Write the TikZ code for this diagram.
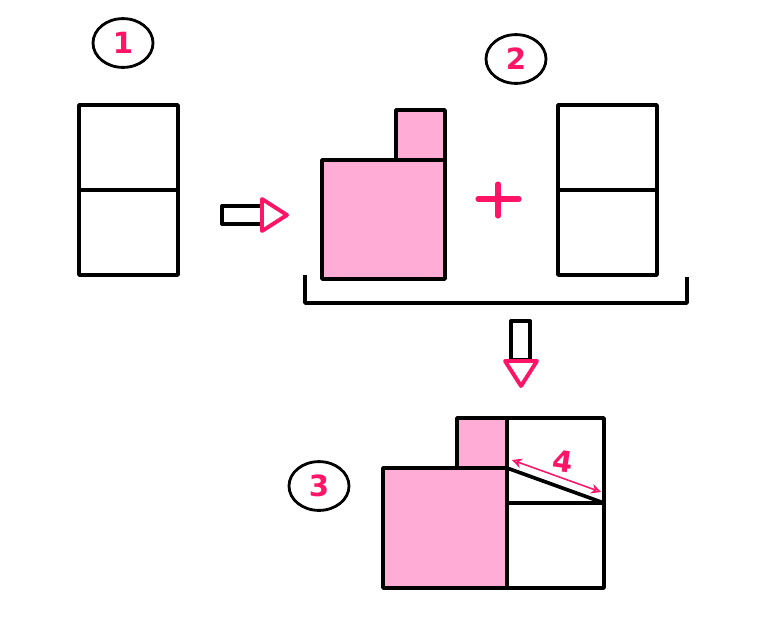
\documentclass[tikz,border=0pt]{standalone}
\usepackage{fontspec}
\setmainfont{DejaVu Sans}
\usepackage{tikz}
\usetikzlibrary{shapes.geometric, arrows.meta}

\definecolor{hotpink}{HTML}{FF1466}
\definecolor{lightpink}{HTML}{FFADD6}

\begin{document}
\begin{tikzpicture}[x=0.025cm, y=-0.025cm, line width=2.6pt, line join=round,
    every node/.style={ellipse, draw, line width=2pt, minimum width=1.5cm, minimum height=1.22cm, text=hotpink, font=\huge\bfseries}]
    \useasboundingbox (0,0) rectangle (770,627);
    % step numbers
    \node (one) at (123,43) {1};
    \node (two) at (516,59) {2};
    \node (three) at (319,486) {3};
    % first shape
    \draw (79,105) rectangle (178,275);
    \draw (79,190) -- (178,190);
    % right arrow
    \draw[line width=2.8pt] (222,206) rectangle (262,224);
    \draw[hotpink, fill=white, line width=2.8pt] (262,199) -- (287,215) -- (262,231) -- cycle;
    % pink pieces and plus
    \draw[fill=lightpink] (396,110) rectangle (445,160);
    \draw[fill=lightpink] (322,160) rectangle (445,279);
    \draw[hotpink, line width=3.6pt, line cap=round] (478,199) -- (519,199) (498,184) -- (498,216);
    \draw (558,105) rectangle (657,275);
    \draw (558,190) -- (657,190);
    % bracket
    \draw (305,275) -- (305,303) -- (687,303) -- (687,277);
    % down arrow
    \draw[line width=2.8pt] (511,321) rectangle (530,360);
    \draw[hotpink, fill=white, line width=2.8pt] (505,361) -- (537,361) -- (521,386) -- cycle;
    % result
    \draw[fill=lightpink] (457,418) rectangle (507,468);
    \draw[fill=lightpink] (383,468) rectangle (507,588);
    \draw (507,418) rectangle (604,588);
    \draw (507,503) -- (604,503);
    \draw (507,468) -- (604,503);
    \draw[hotpink, line width=1.1pt, {Stealth[open, length=7pt, width=7pt]}-{Stealth[open, length=7pt, width=7pt]}] (512,460) -- (601,492);
    \node[draw=none, minimum size=0pt, inner sep=1pt, rotate=-8, font=\huge\bfseries, shape=rectangle] (len) at (563,461) {4};
\end{tikzpicture}
\end{document}
